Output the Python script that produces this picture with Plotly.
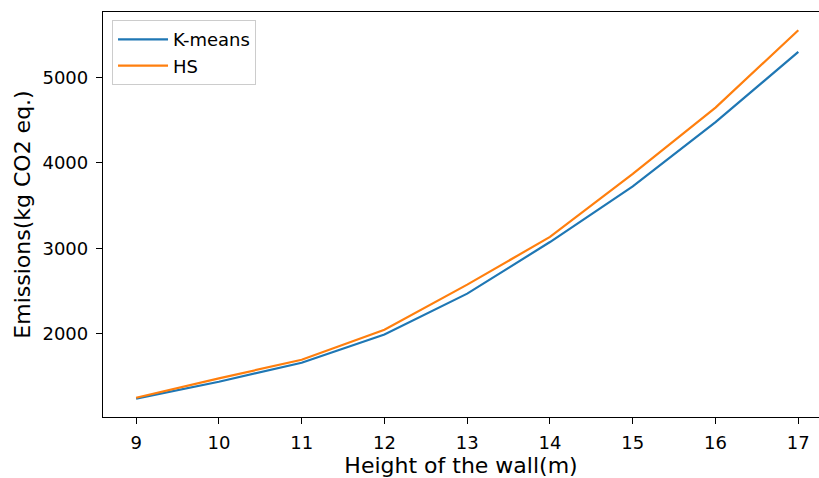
import plotly.graph_objects as go

heights = [9, 10, 11, 12, 13, 14, 15, 16, 17]
kmeans = [1242, 1440, 1662, 1992, 2470, 3073, 3723, 4475, 5295]
hs = [1253, 1480, 1697, 2047, 2575, 3133, 3870, 4645, 5548]
y_ticks = [2000, 3000, 4000, 5000]

fig = go.Figure()
fig.add_trace(go.Scatter(x=heights, y=kmeans, mode="lines", name="K-means",
                         line=dict(color="#1f77b4", width=2.2)))
fig.add_trace(go.Scatter(x=heights, y=hs, mode="lines", name="HS",
                         line=dict(color="#ff7f0e", width=2.2)))

font = "DejaVu Sans, sans-serif"
fig.update_layout(
    width=819, height=478,
    margin=dict(l=103, r=0, t=12, b=61),
    paper_bgcolor="white", plot_bgcolor="white",
    font=dict(family=font, size=18, color="black"),
    showlegend=True,
    legend=dict(x=0.0126, y=0.98, xanchor="left", yanchor="top",
                bgcolor="rgba(255,255,255,0.8)", bordercolor="#cccccc", borderwidth=1,
                itemwidth=50,
                font=dict(family=font, size=18, color="black")),
)
fig.update_xaxes(
    range=[8.6, 17.25], tickvals=heights, ticks="outside", ticklen=6, tickcolor="black",
    showline=True, linecolor="black", linewidth=1.3, mirror=True, showgrid=False, zeroline=False,
    title=dict(text="Height of the wall(m)", font=dict(family=font, size=22), standoff=6),
    tickfont=dict(family=font, size=18), ticklabelstandoff=3,
)
fig.update_yaxes(
    range=[1028, 5762], tickvals=y_ticks, ticks="outside", ticklen=6, tickcolor="black",
    showline=True, linecolor="black", linewidth=1.3, mirror=False, showgrid=False, zeroline=False,
    title=dict(text="Emissions(kg CO2 eq.)", font=dict(family=font, size=22), standoff=5),
    tickfont=dict(family=font, size=18), ticklabelstandoff=4,
)
fig.write_html("out.html")
